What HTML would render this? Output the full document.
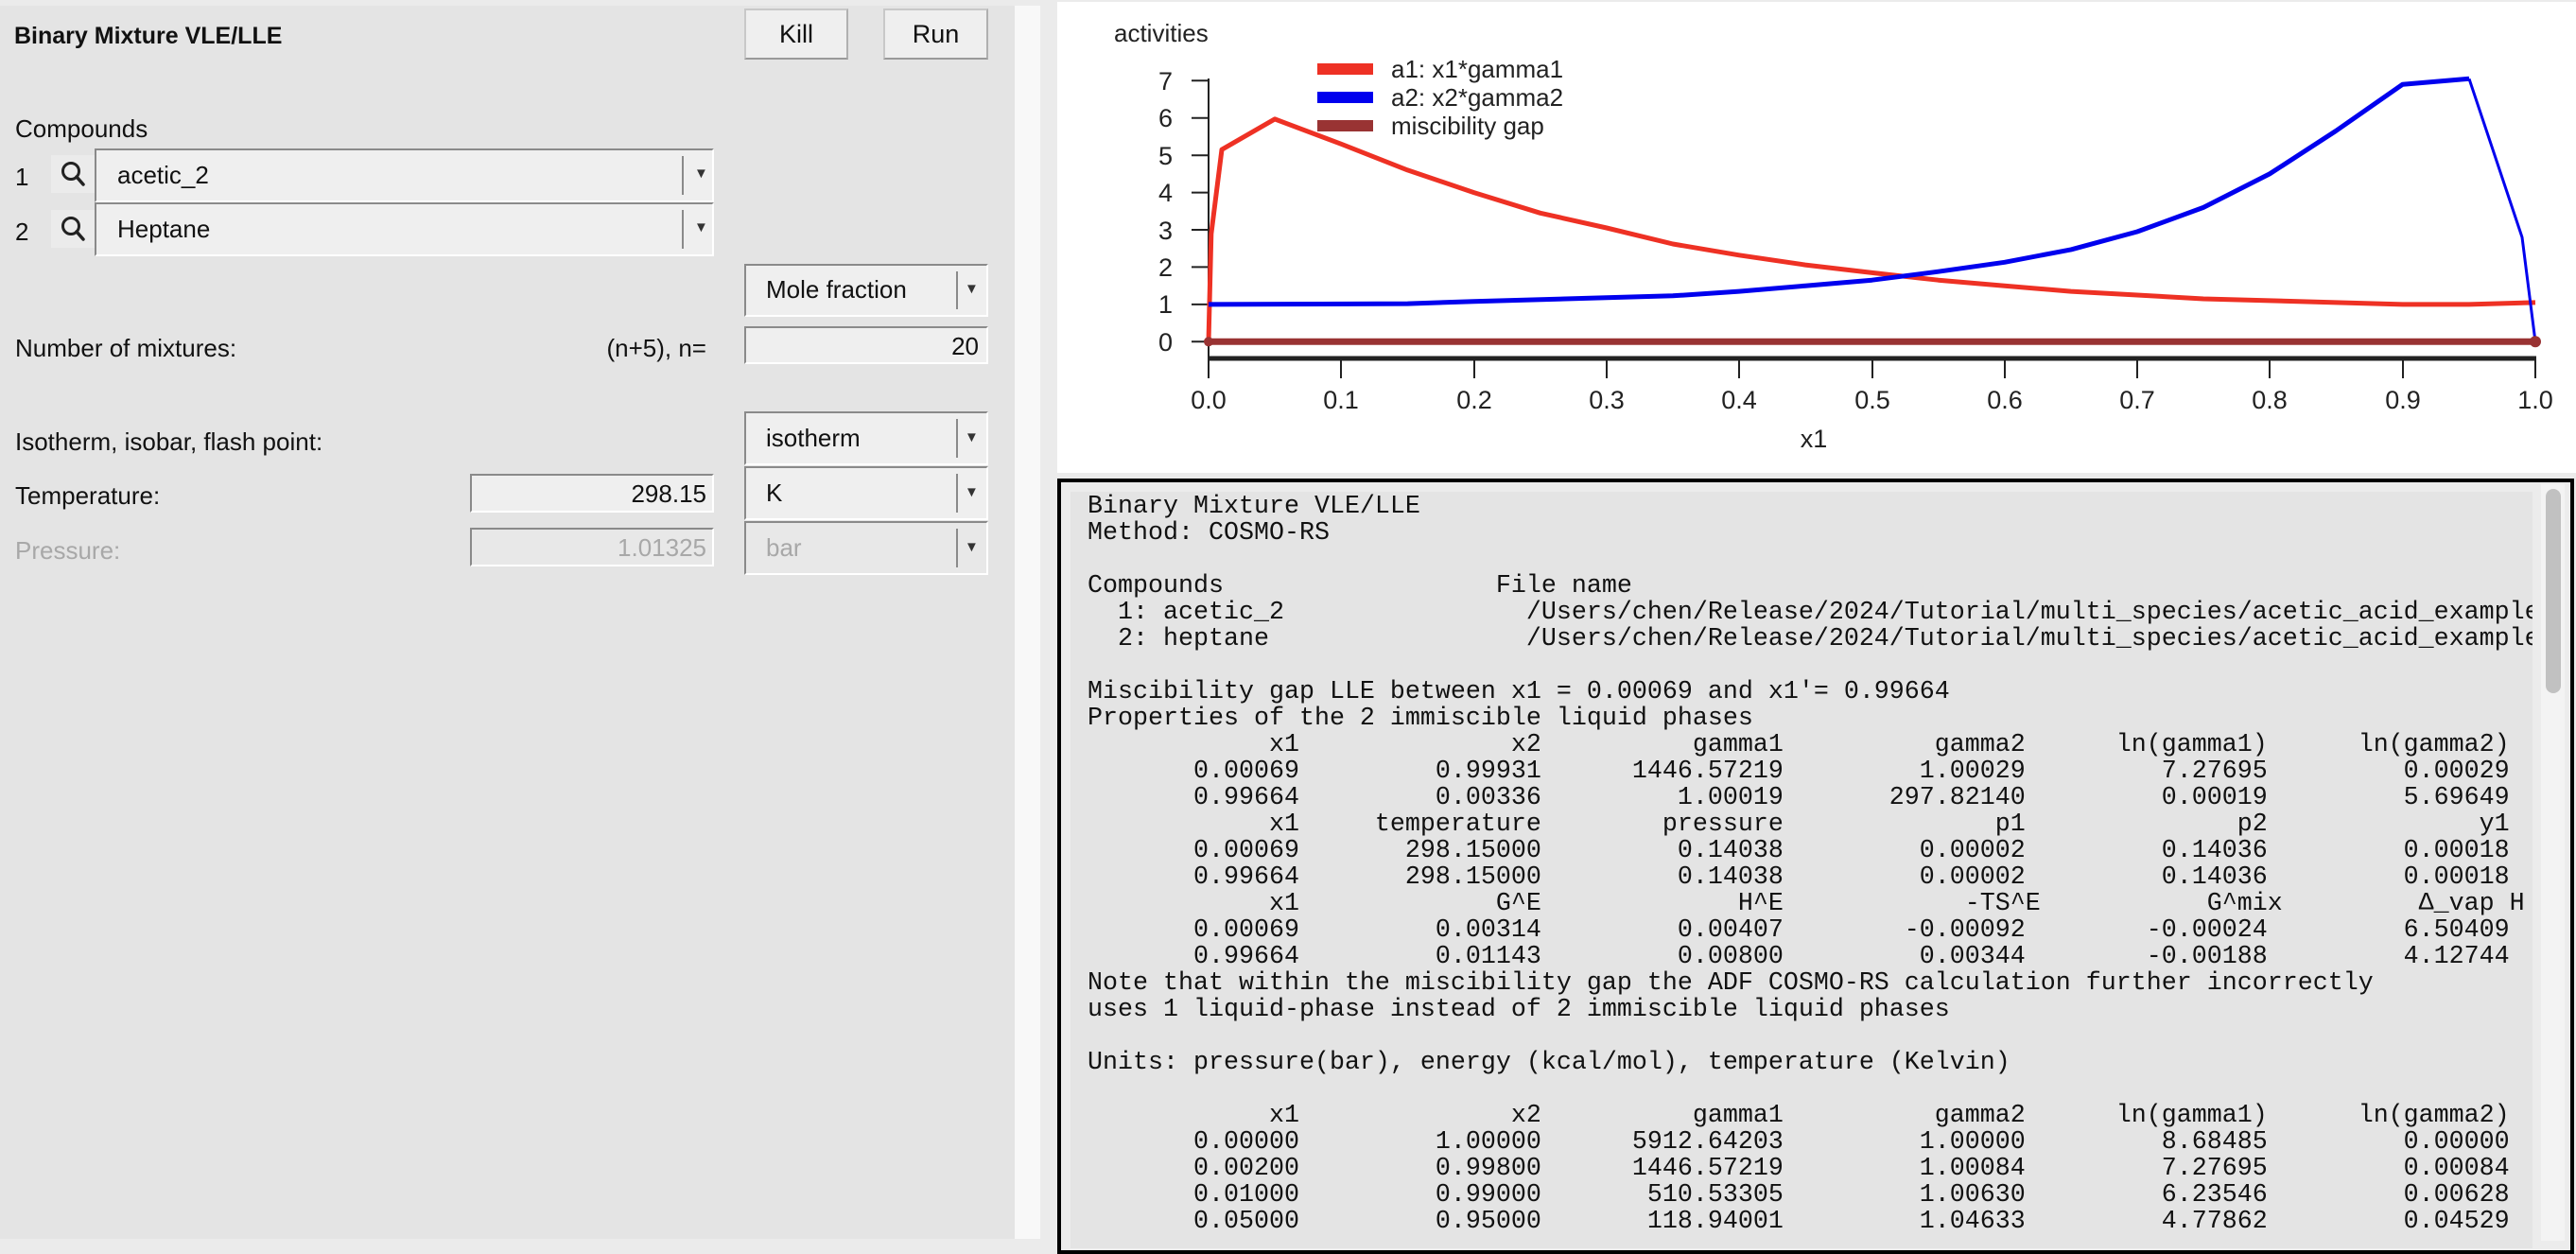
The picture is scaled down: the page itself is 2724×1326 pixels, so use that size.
<!DOCTYPE html>
<html><head><meta charset="utf-8">
<style>
*{margin:0;padding:0;box-sizing:border-box}
body{width:2724px;height:1310px;overflow:hidden;background:#ebebeb;position:relative;font-family:"Liberation Sans",Arial,sans-serif;color:#111}
.a{position:absolute}
.lp{left:0;top:6px;width:1073px;height:1304px;background:#e4e4e4}
.t{font-size:26px;line-height:30px;white-space:nowrap}
.box{background:#efefef;border-top:2px solid #8a8a8a;border-left:2px solid #8a8a8a;border-bottom:2px solid #fff;border-right:2px solid #fff}
.btn{background:#efefef;border:2px solid #c8c8c8;border-bottom-color:#9a9a9a;border-right-color:#b0b0b0;font-size:27px;text-align:center;line-height:50px}
.sep{position:absolute;top:6px;bottom:6px;width:2px;background:#8a8a8a}
.arr{position:absolute;font-size:15px;color:#333}
.mag{background:#ebebeb}
pre{font-family:"Liberation Mono","Courier New",monospace;font-size:26.67px;line-height:28px;color:#111}
</style></head><body>
<div class="a lp"></div>
<div class="a" style="left:1073px;top:6px;width:27px;height:1304px;background:#f8f8f8"></div>
<div class="a" style="left:1118px;top:2px;width:1606px;height:498px;background:#fff"></div>

<div class="a t" style="left:15px;top:23px;font-weight:bold;font-size:25px">Binary Mixture VLE/LLE</div>
<div class="a btn" style="left:787px;top:9px;width:110px;height:54px">Kill</div>
<div class="a btn" style="left:934px;top:9px;width:111px;height:54px">Run</div>

<div class="a t" style="left:16px;top:121px">Compounds</div>
<div class="a t" style="left:16px;top:172px">1</div>
<div class="a t" style="left:16px;top:230px">2</div>
<div class="a mag" style="left:54px;top:164px;width:46px;height:40px"><svg width="46" height="40"><circle cx="21" cy="17" r="8.5" fill="none" stroke="#222" stroke-width="3"/><line x1="27" y1="23" x2="34" y2="31" stroke="#222" stroke-width="3.5" stroke-linecap="round"/></svg></div>
<div class="a mag" style="left:54px;top:222px;width:46px;height:40px"><svg width="46" height="40"><circle cx="21" cy="17" r="8.5" fill="none" stroke="#222" stroke-width="3"/><line x1="27" y1="23" x2="34" y2="31" stroke="#222" stroke-width="3.5" stroke-linecap="round"/></svg></div>
<div class="a box" style="left:100px;top:157px;width:655px;height:57px"><div class="a t" style="left:22px;top:11px">acetic_2</div><div class="sep" style="left:619px"></div><div class="arr" style="left:632px;top:16px">▼</div></div>
<div class="a box" style="left:100px;top:214px;width:655px;height:57px"><div class="a t" style="left:22px;top:11px">Heptane</div><div class="sep" style="left:619px"></div><div class="arr" style="left:632px;top:16px">▼</div></div>

<div class="a box" style="left:787px;top:279px;width:258px;height:56px"><div class="a t" style="left:21px;top:10px">Mole fraction</div><div class="sep" style="left:222px"></div><div class="arr" style="left:231px;top:16px">▼</div></div>

<div class="a t" style="left:16px;top:353px">Number of mixtures:</div>
<div class="a t" style="left:620px;top:353px;width:127px;text-align:right">(n+5), n=</div>
<div class="a box" style="left:787px;top:345px;width:258px;height:40px"><div class="a t" style="right:8px;top:4px">20</div></div>

<div class="a t" style="left:16px;top:452px">Isotherm, isobar, flash point:</div>
<div class="a box" style="left:787px;top:435px;width:258px;height:57px"><div class="a t" style="left:21px;top:11px">isotherm</div><div class="sep" style="left:222px"></div><div class="arr" style="left:231px;top:17px">▼</div></div>

<div class="a t" style="left:16px;top:509px">Temperature:</div>
<div class="a box" style="left:497px;top:501px;width:258px;height:41px"><div class="a t" style="right:6px;top:4px">298.15</div></div>
<div class="a box" style="left:787px;top:493px;width:258px;height:57px"><div class="a t" style="left:21px;top:11px">K</div><div class="sep" style="left:222px"></div><div class="arr" style="left:231px;top:17px">▼</div></div>

<div class="a t" style="left:16px;top:567px;color:#a8a8a8">Pressure:</div>
<div class="a box" style="left:497px;top:558px;width:258px;height:41px;background:#e8e8e8"><div class="a t" style="right:6px;top:4px;color:#a8a8a8">1.01325</div></div>
<div class="a box" style="left:787px;top:551px;width:258px;height:57px;background:#e8e8e8"><div class="a t" style="left:21px;top:11px;color:#a8a8a8">bar</div><div class="sep" style="left:222px"></div><div class="arr" style="left:231px;top:17px">▼</div></div>

<svg class="a" style="left:0;top:0" width="2724" height="500" font-family="Liberation Sans, Arial, sans-serif">
<text x="1178" y="44" font-size="26" fill="#222">activities</text>
<g stroke="#222" stroke-width="2">
<line x1="1278" y1="83" x2="1278" y2="379"/>
<line x1="1260" y1="85.3" x2="1278" y2="85.3"/><line x1="1260" y1="124.7" x2="1278" y2="124.7"/><line x1="1260" y1="164.2" x2="1278" y2="164.2"/><line x1="1260" y1="203.6" x2="1278" y2="203.6"/><line x1="1260" y1="243" x2="1278" y2="243"/><line x1="1260" y1="282.4" x2="1278" y2="282.4"/><line x1="1260" y1="321.9" x2="1278" y2="321.9"/><line x1="1260" y1="361.3" x2="1278" y2="361.3"/>
<line x1="1278" y1="379" x2="1278" y2="400"/><line x1="1418" y1="379" x2="1418" y2="400"/><line x1="1559" y1="379" x2="1559" y2="400"/><line x1="1699" y1="379" x2="1699" y2="400"/><line x1="1839" y1="379" x2="1839" y2="400"/><line x1="1980" y1="379" x2="1980" y2="400"/><line x1="2120" y1="379" x2="2120" y2="400"/><line x1="2260" y1="379" x2="2260" y2="400"/><line x1="2400" y1="379" x2="2400" y2="400"/><line x1="2541" y1="379" x2="2541" y2="400"/><line x1="2681" y1="379" x2="2681" y2="400"/>
</g>
<line x1="1277" y1="379" x2="2682" y2="379" stroke="#222" stroke-width="5"/>
<g font-size="27" fill="#222" text-anchor="end">
<text x="1240" y="95">7</text><text x="1240" y="134">6</text><text x="1240" y="174">5</text><text x="1240" y="213">4</text><text x="1240" y="253">3</text><text x="1240" y="292">2</text><text x="1240" y="331">1</text><text x="1240" y="371">0</text>
</g>
<g font-size="27" fill="#222" text-anchor="middle">
<text x="1278" y="432">0.0</text><text x="1418" y="432">0.1</text><text x="1559" y="432">0.2</text><text x="1699" y="432">0.3</text><text x="1839" y="432">0.4</text><text x="1980" y="432">0.5</text><text x="2120" y="432">0.6</text><text x="2260" y="432">0.7</text><text x="2400" y="432">0.8</text><text x="2541" y="432">0.9</text><text x="2681" y="432">1.0</text>
<text x="1918" y="473">x1</text>
</g>
<polyline fill="none" stroke="#ee3124" stroke-width="5" stroke-linejoin="round" points="1278,361.3 1280.8,247.3 1292,158.2 1348,125.9 1418.3,152.3 1488.5,179.9 1558.6,203.6 1628.8,225.3 1698.9,241 1769,258 1839,269.8 1909,280.1 1979.5,288.4 2049.7,296.2 2119.8,302.2 2190,308.1 2260,312 2330,316 2400,317.9 2470,319.9 2540.7,321.9 2611,321.9 2681,319.9"/>
<polyline fill="none" stroke="#0000ee" stroke-width="5" stroke-linejoin="round" points="1278,321.9 1488.5,321.1 1558.6,318.7 1698.9,314.8 1769,312.8 1839,308.1 1909,302.2 1979.5,296.2 2049.7,287.2 2119.8,277.3 2190,263.9 2260,245 2330,219.4 2400,183.9 2470,138.5 2540.7,89.2 2611,83.3"/>
<polyline fill="none" stroke="#0000ee" stroke-width="3" points="2611,83.3 2667,250.9 2681,361.3"/>
<line x1="1278" y1="361.3" x2="2681" y2="361.3" stroke="#993333" stroke-width="7"/>
<circle cx="1278" cy="361.3" r="5" fill="#993333"/><circle cx="2681" cy="361.3" r="6" fill="#993333"/>
<rect x="1393" y="67" width="59" height="12" fill="#ee3124"/>
<rect x="1393" y="97" width="59" height="12" fill="#0000ee"/>
<rect x="1393" y="127" width="59" height="12" fill="#993333"/>
<g font-size="26" fill="#222"><text x="1471" y="82">a1: x1*gamma1</text><text x="1471" y="112">a2: x2*gamma2</text><text x="1471" y="142">miscibility gap</text></g>
</svg>

<div class="a" style="left:1118px;top:506px;width:1604px;height:820px;border:4px solid #000;background:#ececec"></div>
<div class="a" style="left:1132px;top:520px;width:1546px;height:800px;background:#e4e4e4;overflow:hidden">
<pre style="position:absolute;left:18px;top:2px">Binary Mixture VLE/LLE
Method: COSMO-RS

Compounds                  File name
  1: acetic_2                /Users/chen/Release/2024/Tutorial/multi_species/acetic_acid_example/acetic_2.coskf
  2: heptane                 /Users/chen/Release/2024/Tutorial/multi_species/acetic_acid_example/heptane.coskf

Miscibility gap LLE between x1 = 0.00069 and x1'= 0.99664
Properties of the 2 immiscible liquid phases
            x1              x2          gamma1          gamma2      ln(gamma1)      ln(gamma2)
       0.00069         0.99931      1446.57219         1.00029         7.27695         0.00029
       0.99664         0.00336         1.00019       297.82140         0.00019         5.69649
            x1     temperature        pressure              p1              p2              y1
       0.00069       298.15000         0.14038         0.00002         0.14036         0.00018
       0.99664       298.15000         0.14038         0.00002         0.14036         0.00018
            x1             G^E             H^E            -TS^E           G^mix         Δ_vap H
       0.00069         0.00314         0.00407        -0.00092        -0.00024         6.50409
       0.99664         0.01143         0.00800         0.00344        -0.00188         4.12744
Note that within the miscibility gap the ADF COSMO-RS calculation further incorrectly
uses 1 liquid-phase instead of 2 immiscible liquid phases

Units: pressure(bar), energy (kcal/mol), temperature (Kelvin)

            x1              x2          gamma1          gamma2      ln(gamma1)      ln(gamma2)
       0.00000         1.00000      5912.64203         1.00000         8.68485         0.00000
       0.00200         0.99800      1446.57219         1.00084         7.27695         0.00084
       0.01000         0.99000       510.53305         1.00630         6.23546         0.00628
       0.05000         0.95000       118.94001         1.04633         4.77862         0.04529</pre>
</div>
<div class="a" style="left:2687px;top:512px;width:25px;height:800px;background:#f3f3f3"></div>
<div class="a" style="left:2692px;top:517px;width:16px;height:216px;background:#c1c1c1;border-radius:8px"></div>
</body></html>
